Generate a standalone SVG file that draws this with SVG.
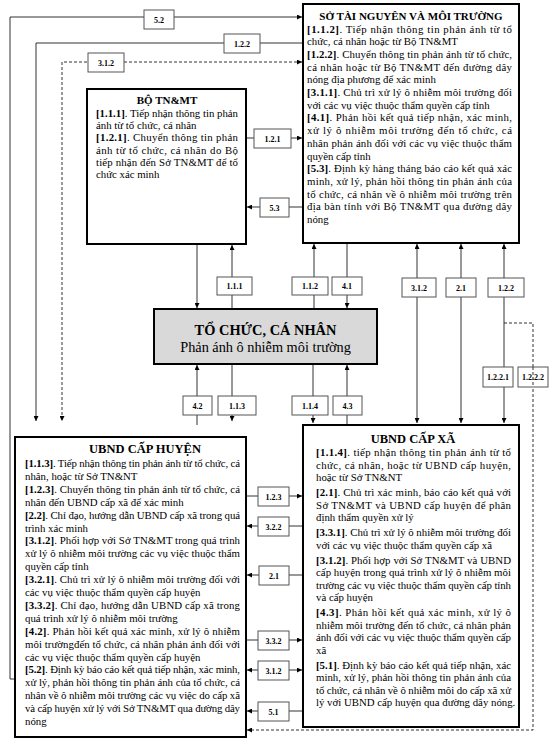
<svg xmlns="http://www.w3.org/2000/svg" width="556" height="744" viewBox="0 0 556 744">
<style>
.box{fill:#fff;stroke:#000;stroke-width:2}
.ctr{fill:#d9d9d9;stroke:#000;stroke-width:2}
.lb rect{fill:#fff;stroke:#555;stroke-width:1}
.lb text{font-family:"Liberation Serif",serif;font-weight:bold;font-size:8px;text-anchor:middle;fill:#000}
.t{font-family:"Liberation Serif",serif;font-size:10.8px;fill:#000}
.b{font-weight:bold}
.h1{font-family:"Liberation Serif",serif;font-weight:bold;font-size:11px;text-anchor:middle}
.h2{font-family:"Liberation Serif",serif;font-weight:bold;font-size:12.5px;text-anchor:middle}
.ln{fill:none;stroke:#333;stroke-width:1}
.d{stroke-dasharray:3 2}
.e{marker-end:url(#a)}
.s{marker-start:url(#a)}
</style>
<defs>
<marker id="a" viewBox="0 0 6 6" refX="6" refY="3" markerWidth="5" markerHeight="5" orient="auto-start-reverse" markerUnits="userSpaceOnUse"><path d="M0,0L6,3L0,6z" fill="#000"/></marker>
</defs>

<g id="connectors">
<path class="ln e" d="M15,679H10V17H302"/>
<path class="ln e" d="M302,43H36V421"/>
<path class="ln d s e" d="M302,62H62V421"/>
<path class="ln e" d="M247,138H302"/>
<path class="ln e" d="M302,207H247"/>
<path class="ln e" d="M197,245V308"/>
<path class="ln e" d="M232,308V245"/>
<path class="ln e" d="M314,308V244"/>
<path class="ln e" d="M347,244V308"/>
<path class="ln s e" d="M417,244V423"/>
<path class="ln s e" d="M461,244V423"/>
<path class="ln s e" d="M504,244V423"/>
<path class="ln d e" d="M504,323H533V730H247"/>
<path class="ln e" d="M197,425V365"/>
<path class="ln e" d="M232,365V421"/>
<path class="ln e" d="M313,365V423"/>
<path class="ln e" d="M347,425V365"/>
<path class="ln e" d="M247,496H302"/>
<path class="ln e" d="M302,526H247"/>
<path class="ln e" d="M302,575H247"/>
<path class="ln e" d="M247,640H302"/>
<path class="ln s e" d="M302,670H247"/>
<path class="ln e" d="M302,711H247"/>
</g>

<g id="labels">
<g class="lb"><rect x="144" y="10" width="30" height="19"/><text x="159" y="22.5">5.2</text></g>
<g class="lb"><rect x="224" y="34" width="36" height="19"/><text x="242" y="46.5">1.2.2</text></g>
<g class="lb"><rect x="88" y="53" width="36" height="19"/><text x="106" y="65.5">3.1.2</text></g>
<g class="lb"><rect x="254" y="129" width="37" height="19"/><text x="272.5" y="141.5">1.2.1</text></g>
<g class="lb"><rect x="260" y="198" width="29" height="19"/><text x="274.5" y="210.5">5.3</text></g>
<g class="lb"><rect x="217" y="277" width="35" height="18"/><text x="234.5" y="289">1.1.1</text></g>
<g class="lb"><rect x="292" y="277" width="36" height="18"/><text x="310" y="289">1.1.2</text></g>
<g class="lb"><rect x="332" y="277" width="30" height="18"/><text x="347" y="289">4.1</text></g>
<g class="lb"><rect x="402" y="278" width="34" height="19"/><text x="419" y="290.5">3.1.2</text></g>
<g class="lb"><rect x="446" y="278" width="30" height="19"/><text x="461" y="290.5">2.1</text></g>
<g class="lb"><rect x="488" y="278" width="36" height="19"/><text x="506" y="290.5">1.2.2</text></g>
<g class="lb"><rect x="483" y="367" width="30" height="20"/><text x="498" y="380">1.2.2.1</text></g>
<g class="lb"><rect x="518" y="367" width="30" height="20"/><text x="533" y="380">1.2.2.2</text></g>
<g class="lb"><rect x="183" y="396" width="29" height="19"/><text x="197.5" y="408.5">4.2</text></g>
<g class="lb"><rect x="218" y="396" width="38" height="19"/><text x="237" y="408.5">1.1.3</text></g>
<g class="lb"><rect x="292" y="396" width="36" height="19"/><text x="310" y="408.5">1.1.4</text></g>
<g class="lb"><rect x="333" y="396" width="29" height="19"/><text x="347.5" y="408.5">4.3</text></g>
<g class="lb"><rect x="258" y="487" width="31" height="19"/><text x="273.5" y="499.5">1.2.3</text></g>
<g class="lb"><rect x="258" y="517" width="31" height="19"/><text x="273.5" y="529.5">3.2.2</text></g>
<g class="lb"><rect x="259" y="566" width="30" height="19"/><text x="274" y="578.5">2.1</text></g>
<g class="lb"><rect x="258" y="631" width="31" height="19"/><text x="273.5" y="643.5">3.3.2</text></g>
<g class="lb"><rect x="258" y="661" width="31" height="19"/><text x="273.5" y="673.5">3.1.2</text></g>
<g class="lb"><rect x="258" y="702" width="31" height="19"/><text x="273.5" y="714.5">5.1</text></g>
</g>
<g id="connector-overlay"><path class="ln d" d="M533,367V387"/></g>

<g id="so-tnmt">
<rect class="box" x="303" y="4" width="216" height="239"/>
<text class="h1" x="411" y="20">SỞ TÀI NGUYÊN VÀ MÔI TRƯỜNG</text>
<g class="t">
<text x="307" y="32.5" textLength="205" lengthAdjust="spacing"><tspan class="b">[1.1.2]</tspan>. Tiếp nhận thông tin phản ánh từ tổ</text>
<text x="307" y="45.2">chức, cá nhân hoặc từ Bộ TN&amp;MT</text>
<text x="307" y="57.9" textLength="205" lengthAdjust="spacing"><tspan class="b">[1.2.2]</tspan>. Chuyển thông tin phản ánh từ tổ chức,</text>
<text x="307" y="70.6" textLength="205" lengthAdjust="spacing">cá nhân hoặc từ Bộ TN&amp;MT đến đường dây</text>
<text x="307" y="83.3">nóng địa phương để xác minh</text>
<text x="307" y="96" textLength="205" lengthAdjust="spacing"><tspan class="b">[3.1.1]</tspan>. Chủ trì xử lý ô nhiễm môi trường đối</text>
<text x="307" y="108.7">với các vụ việc thuộc thẩm quyền cấp tỉnh</text>
<text x="307" y="121.4" textLength="205" lengthAdjust="spacing"><tspan class="b">[4.1]</tspan>. Phản hồi kết quả tiếp nhận, xác minh,</text>
<text x="307" y="134.1" textLength="205" lengthAdjust="spacing">xử lý ô nhiễm môi trường đến tổ chức, cá</text>
<text x="307" y="146.8" textLength="205" lengthAdjust="spacing">nhân phản ánh đối với các vụ việc thuộc thẩm</text>
<text x="307" y="159.5">quyền cấp tỉnh</text>
<text x="307" y="172.2" textLength="205" lengthAdjust="spacing"><tspan class="b">[5.3]</tspan>. Định kỳ hàng tháng báo cáo kết quả xác</text>
<text x="307" y="184.9" textLength="205" lengthAdjust="spacing">minh, xử lý, phản hồi thông tin phản ánh của</text>
<text x="307" y="197.6" textLength="205" lengthAdjust="spacing">tổ chức, cá nhân về ô nhiễm môi trường trên</text>
<text x="307" y="210.3" textLength="205" lengthAdjust="spacing">địa bàn tỉnh với Bộ TN&amp;MT qua đường dây</text>
<text x="307" y="223">nóng</text>
</g>
</g>

<g id="bo-tnmt">
<rect class="box" x="87" y="89" width="159" height="155"/>
<text class="h1" x="167" y="104">BỘ TN&amp;MT</text>
<g class="t">
<text x="96" y="117" textLength="142" lengthAdjust="spacing"><tspan class="b">[1.1.1]</tspan>. Tiếp nhận thông tin phản</text>
<text x="96" y="129.2">ánh từ tổ chức, cá nhân</text>
<text x="96" y="141.4" textLength="142" lengthAdjust="spacing"><tspan class="b">[1.2.1]</tspan>. Chuyển thông tin phản</text>
<text x="96" y="153.6" textLength="142" lengthAdjust="spacing">ánh từ tổ chức, cá nhân do Bộ</text>
<text x="96" y="165.8" textLength="142" lengthAdjust="spacing">tiếp nhận đến Sở TN&amp;MT để tổ</text>
<text x="96" y="178">chức xác minh</text>
</g>
</g>

<g id="to-chuc-ca-nhan">
<rect class="ctr" x="154" y="309" width="223" height="55"/>
<text x="265.5" y="335" style="font-family:'Liberation Serif',serif;font-weight:bold;font-size:14.4px;text-anchor:middle">TỔ CHỨC, CÁ NHÂN</text>
<text x="265.5" y="352" style="font-family:'Liberation Serif',serif;font-size:14.3px;text-anchor:middle">Phản ánh ô nhiễm môi trường</text>
</g>

<g id="ubnd-huyen">
<rect class="box" x="15" y="437" width="231" height="300"/>
<text class="h2" x="145" y="453">UBND CẤP HUYỆN</text>
<g class="t">
<text x="25" y="467" textLength="215" lengthAdjust="spacing"><tspan class="b">[1.1.3]</tspan>. Tiếp nhận thông tin phản ánh từ tổ chức, cá</text>
<text x="25" y="479.9">nhân, hoặc từ Sở TN&amp;NT</text>
<text x="25" y="492.8" textLength="215" lengthAdjust="spacing"><tspan class="b">[1.2.3]</tspan>. Chuyển thông tin phản ánh từ tổ chức, cá</text>
<text x="25" y="505.7">nhân đến UBND cấp xã để xác minh</text>
<text x="25" y="518.6" textLength="215" lengthAdjust="spacing"><tspan class="b">[2.2]</tspan>. Chỉ đạo, hướng dẫn UBND cấp xã trong quá</text>
<text x="25" y="531.5">trình xác minh</text>
<text x="25" y="544.4" textLength="215" lengthAdjust="spacing"><tspan class="b">[3.1.2]</tspan>. Phối hợp với Sở TN&amp;MT trong quá trình</text>
<text x="25" y="557.3" textLength="215" lengthAdjust="spacing">xử lý ô nhiễm môi trường các vụ việc thuộc thẩm</text>
<text x="25" y="570.2">quyền cấp tỉnh</text>
<text x="25" y="583.1" textLength="215" lengthAdjust="spacing"><tspan class="b">[3.2.1]</tspan>. Chủ trì xử lý ô nhiễm môi trường đối với</text>
<text x="25" y="596">các vụ việc thuộc thẩm quyền cấp huyện</text>
<text x="25" y="608.9" textLength="215" lengthAdjust="spacing"><tspan class="b">[3.3.2]</tspan>. Chỉ đạo, hướng dẫn UBND cấp xã trong</text>
<text x="25" y="621.8">quá trình xử lý ô nhiễm môi trường</text>
<text x="25" y="634.7" textLength="215" lengthAdjust="spacing"><tspan class="b">[4.2]</tspan>. Phản hồi kết quả xác minh, xử lý ô nhiễm</text>
<text x="25" y="647.6" textLength="215" lengthAdjust="spacing">môi trườngđến tổ chức, cá nhân phản ánh đối với</text>
<text x="25" y="660.5">các vụ việc thuộc thẩm quyền cấp huyện</text>
<text x="25" y="673.4" textLength="215" lengthAdjust="spacing"><tspan class="b">[5.2]</tspan>. Định kỳ báo cáo kết quả tiếp nhận, xác minh,</text>
<text x="25" y="686.3" textLength="215" lengthAdjust="spacing">xử lý, phản hồi thông tin phản ánh của tổ chức, cá</text>
<text x="25" y="699.2" textLength="215" lengthAdjust="spacing">nhân về ô nhiễm môi trường các vụ việc do cấp xã</text>
<text x="25" y="712.1" textLength="215" lengthAdjust="spacing">và cấp huyện xử lý với Sở TN&amp;MT qua đường dây</text>
<text x="25" y="725">nóng</text>
</g>
</g>

<g id="ubnd-xa">
<rect class="box" x="303" y="425" width="216" height="302"/>
<text class="h2" x="413" y="443">UBND CẤP XÃ</text>
<g class="t">
<text x="316" y="456" textLength="195" lengthAdjust="spacing"><tspan class="b">[1.1.4]</tspan>. tiếp nhận thông tin phản ánh từ tổ</text>
<text x="316" y="468.5" textLength="195" lengthAdjust="spacing">chức, cá nhân, hoặc từ UBND cấp huyện,</text>
<text x="316" y="481">hoặc từ Sở TN&amp;NT</text>
<text x="316" y="496" textLength="195" lengthAdjust="spacing"><tspan class="b">[2.1]</tspan>. Chủ trì xác minh, báo cáo kết quả với</text>
<text x="316" y="508.5" textLength="195" lengthAdjust="spacing">Sở TN&amp;MT và UBND cấp huyện để phân</text>
<text x="316" y="521">định thẩm quyền xử lý</text>
<text x="316" y="536" textLength="195" lengthAdjust="spacing"><tspan class="b">[3.3.1]</tspan>. Chủ trì xử lý ô nhiễm môi trường đối</text>
<text x="316" y="548.5">với các vụ việc thuộc thẩm quyền cấp xã</text>
<text x="316" y="563.5" textLength="195" lengthAdjust="spacing"><tspan class="b">[3.1.2]</tspan>. Phối hợp với Sở TN&amp;MT và UBND</text>
<text x="316" y="576" textLength="195" lengthAdjust="spacing">cấp huyện trong quá trình xử lý ô nhiễm môi</text>
<text x="316" y="588.5" textLength="195" lengthAdjust="spacing">trường các vụ việc thuộc thẩm quyền cấp tỉnh</text>
<text x="316" y="601">và cấp huyện</text>
<text x="316" y="616" textLength="195" lengthAdjust="spacing"><tspan class="b">[4.3]</tspan>. Phản hồi kết quả xác minh, xử lý ô</text>
<text x="316" y="628.5" textLength="195" lengthAdjust="spacing">nhiễm môi trường đến tổ chức, cá nhân phản</text>
<text x="316" y="641" textLength="195" lengthAdjust="spacing">ánh đối với các vụ việc thuộc thẩm quyền cấp</text>
<text x="316" y="653.5">xã</text>
<text x="316" y="668.5" textLength="195" lengthAdjust="spacing"><tspan class="b">[5.1]</tspan>. Định kỳ báo cáo kết quả tiếp nhận, xác</text>
<text x="316" y="681" textLength="195" lengthAdjust="spacing">minh, xử lý, phản hồi thông tin phản ánh của</text>
<text x="316" y="693.5" textLength="195" lengthAdjust="spacing">tổ chức, cá nhân về ô nhiễm môi do cấp xã xử</text>
<text x="316" y="706">lý với UBND cấp huyện qua đường dây nóng.</text>
</g>
</g>
</svg>
